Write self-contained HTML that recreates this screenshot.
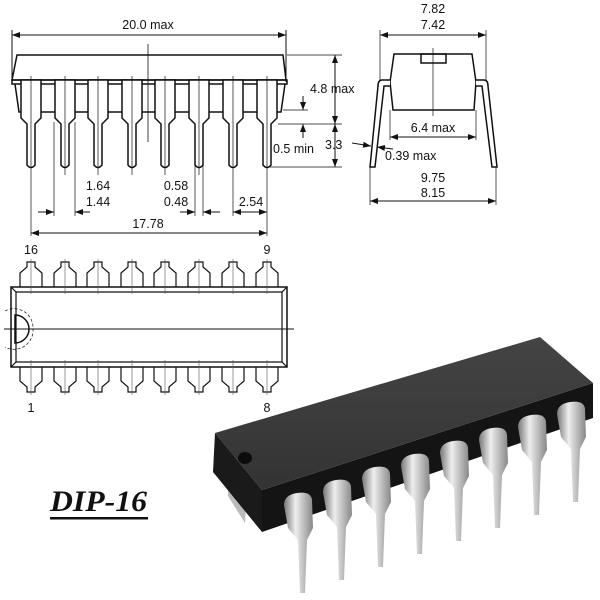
<!DOCTYPE html>
<html><head><meta charset="utf-8"><style>
html,body{margin:0;padding:0;background:#fff;width:600px;height:600px;overflow:hidden}
svg{display:block}
text{font-family:"Liberation Sans",sans-serif;font-size:12.5px;fill:#111}
</style></head><body>
<svg width="600" height="600" viewBox="0 0 600 600" xmlns="http://www.w3.org/2000/svg">
<defs>
<marker id="a" markerWidth="8" markerHeight="6" refX="8" refY="3" orient="auto-start-reverse" markerUnits="userSpaceOnUse"><path d="M0,0 L8,3 L0,6z" fill="#111"/></marker>
<linearGradient id="pin" x1="0" x2="1"><stop offset="0" stop-color="#777"/><stop offset=".4" stop-color="#eee"/><stop offset="1" stop-color="#888"/></linearGradient>
<linearGradient id="top" x1="0" y1="0" x2="0" y2="1"><stop offset="0" stop-color="#444"/><stop offset="1" stop-color="#333"/></linearGradient>
</defs>
<g stroke="#111" fill="none" stroke-width="1">
<line x1="12" y1="35" x2="286" y2="35" marker-start="url(#a)" marker-end="url(#a)"/>
<line x1="12" y1="30" x2="12" y2="82"/><line x1="286" y1="30" x2="286" y2="82"/>
<path d="M17,55 L283,55 L286,80 L12,80 Z" stroke-width="1.5"/>
<rect x="12" y="80" width="275" height="4" stroke-width="1.5"/>
<path d="M15,84 L19,112 L281,112 L285,84" stroke-width="1.5"/>
<line x1="148" y1="44" x2="148" y2="142" stroke-width="0.8"/>
<g fill="#fff" stroke-width="1.5">
<path d="M21,80 L41,80 L41,118 L35,124 L35,165 Q31,170 27,165 L27,124 L21,118 Z"/>
<path d="M55,80 L75,80 L75,118 L69,124 L69,165 Q65,170 61,165 L61,124 L55,118 Z"/>
<path d="M88,80 L108,80 L108,118 L102,124 L102,165 Q98,170 94,165 L94,124 L88,118 Z"/>
<path d="M122,80 L142,80 L142,118 L136,124 L136,165 Q132,170 128,165 L128,124 L122,118 Z"/>
<path d="M155,80 L175,80 L175,118 L169,124 L169,165 Q165,170 161,165 L161,124 L155,118 Z"/>
<path d="M189,80 L209,80 L209,118 L203,124 L203,165 Q199,170 195,165 L195,124 L189,118 Z"/>
<path d="M223,80 L243,80 L243,118 L237,124 L237,165 Q233,170 229,165 L229,124 L223,118 Z"/>
<path d="M257,80 L277,80 L277,118 L271,124 L271,165 Q267,170 263,165 L263,124 L257,118 Z"/>
</g>
<g stroke-width="0.7">
<line x1="31" y1="76" x2="31" y2="236"/><line x1="65" y1="76" x2="65" y2="175"/><line x1="98" y1="76" x2="98" y2="175"/><line x1="132" y1="76" x2="132" y2="175"/>
<line x1="165" y1="76" x2="165" y2="175"/><line x1="199" y1="76" x2="199" y2="175"/><line x1="233" y1="76" x2="233" y2="216"/><line x1="267" y1="76" x2="267" y2="236"/>
<line x1="54" y1="122" x2="54" y2="216"/><line x1="75" y1="122" x2="75" y2="216"/>
<line x1="195" y1="165" x2="195" y2="216"/><line x1="203" y1="165" x2="203" y2="216"/>
</g>
<line x1="38" y1="212" x2="54" y2="212" marker-end="url(#a)"/>
<line x1="90" y1="212" x2="75" y2="212" marker-end="url(#a)"/>
<line x1="180" y1="212" x2="195" y2="212" marker-end="url(#a)"/>
<line x1="220" y1="212" x2="203" y2="212" marker-end="url(#a)"/>
<line x1="233" y1="212" x2="267" y2="212" marker-start="url(#a)" marker-end="url(#a)"/>
<line x1="31" y1="233" x2="267" y2="233" marker-start="url(#a)" marker-end="url(#a)"/>
<g stroke-width="0.8">
<line x1="287" y1="55" x2="342" y2="55"/><line x1="283" y1="110" x2="308" y2="110"/>
<line x1="278" y1="124" x2="342" y2="124"/><line x1="270" y1="167" x2="342" y2="167"/>
</g>
<line x1="335" y1="55" x2="335" y2="124" marker-start="url(#a)" marker-end="url(#a)"/>
<line x1="335" y1="124" x2="335" y2="167" marker-start="url(#a)" marker-end="url(#a)"/>
<line x1="303" y1="96" x2="303" y2="110" marker-end="url(#a)"/>
<line x1="303" y1="138" x2="303" y2="124" marker-end="url(#a)"/>
<line x1="380" y1="35" x2="486" y2="35" marker-start="url(#a)" marker-end="url(#a)"/>
<line x1="380" y1="30" x2="380" y2="80" stroke-width="0.7"/><line x1="486" y1="30" x2="486" y2="80" stroke-width="0.7"/>
<path d="M394,54 L472,54 L476,82 L474,110 L393,110 L390,82 Z" stroke-width="1.5"/>
<rect x="421" y="54" width="25" height="9" stroke-width="1.5"/>
<line x1="433" y1="48" x2="433" y2="116" stroke-width="0.7"/>
<path d="M390,80 L382,80 Q378,80 378,86 L370,167 L375,167 L384,86 L390,86" stroke-width="1.5" fill="#fff"/>
<path d="M476,80 L484,80 Q488,80 488,86 L497,167 L492,167 L482,86 L476,86" stroke-width="1.5" fill="#fff"/>
<line x1="390" y1="110" x2="390" y2="140" stroke-width="0.7"/><line x1="476" y1="110" x2="476" y2="140" stroke-width="0.7"/>
<line x1="390" y1="137" x2="476" y2="137" marker-start="url(#a)" marker-end="url(#a)"/>
<line x1="352" y1="143" x2="371" y2="146" marker-end="url(#a)"/>
<line x1="393" y1="149" x2="377" y2="147" marker-end="url(#a)"/>
<line x1="370" y1="167" x2="370" y2="205" stroke-width="0.7"/><line x1="496" y1="167" x2="496" y2="205" stroke-width="0.7"/>
<line x1="370" y1="201" x2="496" y2="201" marker-start="url(#a)" marker-end="url(#a)"/>
<rect x="11" y="287" width="276" height="80" stroke-width="1.5"/>
<path d="M11,287 L16,292 L282,292 L287,287 M11,367 L16,362 L282,362 L287,367 M16,292 L16,362 M282,292 L282,362" stroke-width="1.2"/>
<line x1="4" y1="329" x2="294" y2="329"/>
<path d="M15,315 A14,14 0 0 1 15,343 Z" stroke-width="1.5"/>
<path d="M5,311 A19,19 0 0 1 33,329 A19,19 0 0 1 5,347" stroke-dasharray="3,2" stroke-width="0.7"/>
<g stroke-width="1.2">
<path id="tp" d="M20,287 L20,273 L27,267 L27,262 L35,262 L35,267 L42,273 L42,287"/>
<use href="#tp" x="34"/><use href="#tp" x="67"/><use href="#tp" x="101"/><use href="#tp" x="134"/><use href="#tp" x="168"/><use href="#tp" x="202"/><use href="#tp" x="236"/>
<path id="bp" d="M20,367 L20,381 L27,387 L27,392 L35,392 L35,387 L42,381 L42,367"/>
<use href="#bp" x="34"/><use href="#bp" x="67"/><use href="#bp" x="101"/><use href="#bp" x="134"/><use href="#bp" x="168"/><use href="#bp" x="202"/><use href="#bp" x="236"/>
</g>
<g stroke-width="0.6" stroke="#555">
<line x1="31" y1="259" x2="31" y2="294"/><line x1="65" y1="259" x2="65" y2="294"/><line x1="98" y1="259" x2="98" y2="294"/><line x1="132" y1="259" x2="132" y2="294"/><line x1="165" y1="259" x2="165" y2="294"/><line x1="199" y1="259" x2="199" y2="294"/><line x1="233" y1="259" x2="233" y2="294"/><line x1="267" y1="259" x2="267" y2="294"/>
<line x1="31" y1="360" x2="31" y2="395"/><line x1="65" y1="360" x2="65" y2="395"/><line x1="98" y1="360" x2="98" y2="395"/><line x1="132" y1="360" x2="132" y2="395"/><line x1="165" y1="360" x2="165" y2="395"/><line x1="199" y1="360" x2="199" y2="395"/><line x1="233" y1="360" x2="233" y2="395"/><line x1="267" y1="360" x2="267" y2="395"/>
</g>
</g>
<g>
<text x="148" y="29" text-anchor="middle">20.0 max</text>
<text x="98" y="190" text-anchor="middle">1.64</text><text x="98" y="206" text-anchor="middle">1.44</text>
<text x="176" y="190" text-anchor="middle">0.58</text><text x="176" y="206" text-anchor="middle">0.48</text>
<text x="251" y="206" text-anchor="middle">2.54</text>
<text x="148" y="228" text-anchor="middle">17.78</text>
<text x="310" y="93">4.8 max</text>
<text x="273" y="153">0.5 min</text>
<text x="325" y="149">3.3</text>
<text x="433" y="13" text-anchor="middle">7.82</text><text x="433" y="29" text-anchor="middle">7.42</text>
<text x="433" y="132" text-anchor="middle">6.4 max</text>
<text x="385" y="160">0.39 max</text>
<text x="433" y="182" text-anchor="middle">9.75</text><text x="433" y="197" text-anchor="middle">8.15</text>
<text x="31" y="254" text-anchor="middle">16</text><text x="267" y="254" text-anchor="middle">9</text>
<text x="31" y="412" text-anchor="middle">1</text><text x="267" y="412" text-anchor="middle">8</text>
<text x="50" y="511" textLength="97" lengthAdjust="spacingAndGlyphs" style="font-family:'Liberation Serif',serif;font-weight:bold;font-style:italic;font-size:30px">DIP-16</text>
</g>
<rect x="50" y="517" width="98" height="2.5" fill="#111"/>
<g>
<path d="M228,448 L248,475 L245,523 L228,496 Z" fill="#bbb"/>
<path d="M215,433 L262,490 L262,532 L213,472 Z" fill="#1a1a1a"/>
<path d="M262,490 L593,383 L593,418 L262,532 Z" fill="#141414"/>
<path d="M215,433 L540,337 L593,383 L262,490 Z" fill="url(#top)"/>
<ellipse cx="245" cy="458" rx="7" ry="6" fill="#0c0c0c"/>
<g fill="url(#pin)">
<path id="pp" d="M284,505 Q284,495 297,493 Q311,491 312,500 L313,528 L307,540 L305,593 L300,593 L298,540 L288,528 Z"/>
<use href="#pp" x="39" y="-13"/><use href="#pp" x="78" y="-26"/><use href="#pp" x="117" y="-39"/><use href="#pp" x="156" y="-52"/><use href="#pp" x="195" y="-65"/><use href="#pp" x="234" y="-78"/><use href="#pp" x="273" y="-91"/>
</g>
</g>
</svg>
</body></html>
